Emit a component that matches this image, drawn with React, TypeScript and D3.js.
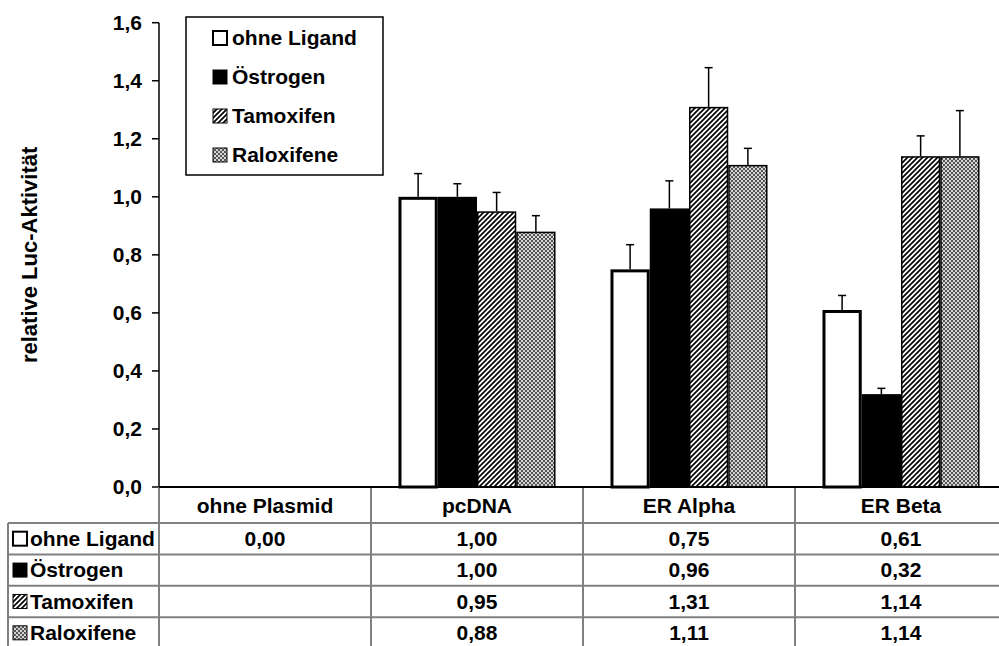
import React from "react";
import * as d3 from "d3";

// chart data
const categories = ["ohne Plasmid", "pcDNA", "ER Alpha", "ER Beta"];
const seriesNames = ["ohne Ligand", "Östrogen", "Tamoxifen", "Raloxifene"];
const ohneLigand = [0, 1.0, 0.75, 0.61];
const oestrogen = [null, 1.0, 0.96, 0.32];
const tamoxifen = [null, 0.95, 1.31, 1.14];
const raloxifene = [null, 0.88, 1.11, 1.14];
// upper error bars
const errOhne = [0, 0.08, 0.085, 0.05];
const errOestrogen = [null, 0.045, 0.095, 0.02];
const errTamoxifen = [null, 0.065, 0.135, 0.07];
const errRaloxifene = [null, 0.055, 0.057, 0.157];
const yTicks = [0, 0.2, 0.4, 0.6, 0.8, 1.0, 1.2, 1.4, 1.6];

const values = [ohneLigand, oestrogen, tamoxifen, raloxifene];
const errors = [errOhne, errOestrogen, errTamoxifen, errRaloxifene];
const fills = ["#fff", "#000", "url(#hatch)", "url(#dots)"];
const strokeW = [3, 1.5, 1.5, 1.5];

const FONT = "'Liberation Sans', Arial, sans-serif";
const GRID = "#808080";
const FS = 21;

const fmt1 = (v: number) => d3.format(".1f")(v).replace(".", ",");
const fmt2 = (v: number) => d3.format(".2f")(v).replace(".", ",");

const Swatch = ({ x, y, i }: { x: number; y: number; i: number }) => (
  <rect x={x} y={y} width={14} height={14} fill={fills[i]} stroke="#000" strokeWidth={i === 0 ? 2 : 1} />
);

export default function App() {
  const W = 999;
  const H = 646;
  const axisX = 159;
  const y = d3.scaleLinear().domain([0, 1.6]).range([487, 22.7]);
  const x0 = d3.scaleBand().domain(categories).range([axisX, 1007]);
  const x1 = d3
    .scaleBand()
    .domain(seriesNames)
    .range([0, x0.bandwidth()])
    .paddingInner(0)
    .paddingOuter(0.7);
  const headerTop = y(0);
  const headerBottom = 523;
  const rowY = d3.scaleBand().domain(seriesNames).range([headerBottom, 648.5]);

  return (
    <div style={{ position: "fixed", left: 0, top: 0 }}>
      <svg width={W} height={H} style={{ display: "block", background: "#fff" }} fontFamily={FONT}>
        <defs>
          <pattern id="hatch" patternUnits="userSpaceOnUse" width={5} height={5}>
            <rect width={5} height={5} fill="#fff" />
            <path d="M-1,1 l2,-2 M0,5 l5,-5 M4,6 l2,-2" stroke="#000" strokeWidth={1.7} />
          </pattern>
          <pattern id="dots" patternUnits="userSpaceOnUse" width={4} height={4}>
            <rect width={4} height={4} fill="#d4d4d4" />
            <rect x={0} y={0} width={2} height={2} fill="#555" />
            <rect x={2} y={2} width={2} height={2} fill="#555" />
          </pattern>
        </defs>

        {/* y axis */}
        <line x1={axisX} x2={axisX} y1={y(1.6)} y2={y(0)} stroke="#000" strokeWidth={1.5} />
        {yTicks.map((t) => (
          <g key={t}>
            <line x1={axisX - 7} x2={axisX} y1={y(t)} y2={y(t)} stroke="#000" strokeWidth={1.5} />
            <text x={142} y={y(t)} dy="0.35em" textAnchor="end" fontSize={FS} fontWeight="bold">
              {fmt1(t)}
            </text>
          </g>
        ))}
        <text
          transform={`translate(37,${y(0.8)}) rotate(-90)`}
          textAnchor="middle"
          fontSize={22}
          fontWeight="bold"
        >
          relative Luc-Aktivität
        </text>

        {/* bars */}
        {categories.map((c, ci) => (
          <g key={c} transform={`translate(${x0(c)},0)`}>
            {seriesNames.map((s, si) => {
              const v = values[si][ci];
              if (v === null) return null;
              const e = errors[si][ci] ?? 0;
              const bx = x1(s)!;
              const cx = bx + x1.bandwidth() / 2;
              return (
                <g key={s}>
                  <line x1={cx} x2={cx} y1={y(v)} y2={y(v + e)} stroke="#000" strokeWidth={1.5} />
                  <line x1={cx - 4} x2={cx + 4} y1={y(v + e)} y2={y(v + e)} stroke="#000" strokeWidth={1.5} />
                  {v > 0 && (
                    <rect
                      x={bx + strokeW[si] / 2}
                      y={y(v) + strokeW[si] / 2}
                      width={x1.bandwidth() - strokeW[si]}
                      height={y(0) - y(v) - strokeW[si] / 2}
                      fill={fills[si]}
                      stroke="#000"
                      strokeWidth={strokeW[si]}
                    />
                  )}
                </g>
              );
            })}
          </g>
        ))}

        {/* legend */}
        <rect x={186} y={17} width={197} height={158} fill="#fff" stroke="#000" strokeWidth={1.5} />
        {seriesNames.map((s, i) => (
          <g key={s} transform={`translate(0,${38 + i * 39})`}>
            <Swatch x={213} y={-7} i={i} />
            <text x={232} y={0} dy="0.35em" fontSize={FS} fontWeight="bold">
              {s}
            </text>
          </g>
        ))}

        {/* data table */}
        {[headerBottom, ...seriesNames.slice(1).map((s) => rowY(s)!)].map((ly, i) => (
          <line key={i} x1={8} x2={W} y1={ly} y2={ly} stroke={GRID} strokeWidth={2} />
        ))}
        <line x1={8} x2={8} y1={headerBottom} y2={H} stroke={GRID} strokeWidth={2} />
        {categories.map((c) => (
          <line key={c} x1={x0(c)} x2={x0(c)} y1={headerTop} y2={H} stroke={GRID} strokeWidth={2} />
        ))}
        <line x1={axisX} x2={W} y1={headerTop} y2={headerTop} stroke="#000" strokeWidth={2} />
        {categories.map((c) => (
          <text
            key={c}
            x={x0(c)! + x0.bandwidth() / 2}
            y={(headerTop + headerBottom) / 2 + 1}
            dy="0.35em"
            textAnchor="middle"
            fontSize={FS}
            fontWeight="bold"
          >
            {c}
          </text>
        ))}
        {seriesNames.map((s, si) => {
          const cy = rowY(s)! + rowY.bandwidth() / 2;
          return (
            <g key={s}>
              <Swatch x={13} y={cy - 7} i={si} />
              <text x={30} y={cy} dy="0.35em" fontSize={FS} fontWeight="bold">
                {s}
              </text>
              {categories.map((c, ci) => {
                const v = values[si][ci];
                if (v === null) return null;
                return (
                  <text
                    key={c}
                    x={x0(c)! + x0.bandwidth() / 2}
                    y={cy}
                    dy="0.35em"
                    textAnchor="middle"
                    fontSize={FS}
                    fontWeight="bold"
                  >
                    {fmt2(v)}
                  </text>
                );
              })}
            </g>
          );
        })}
      </svg>
    </div>
  );
}
